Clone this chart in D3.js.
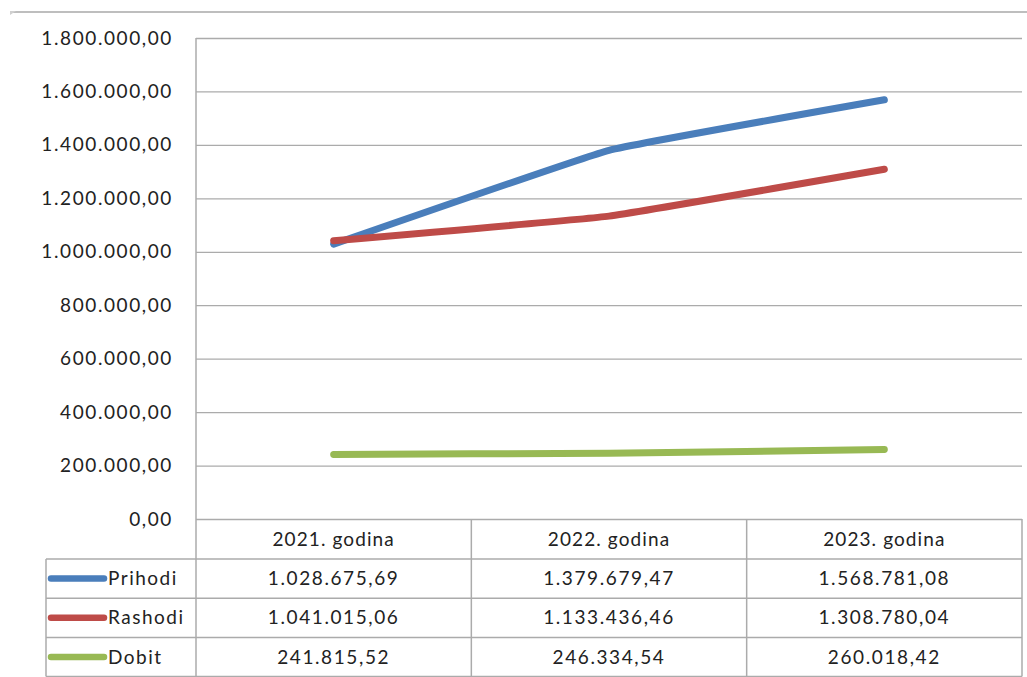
<!DOCTYPE html>
<html><head><meta charset="utf-8">
<script src="https://cdn.jsdelivr.net/npm/d3@7"></script>
<style>
html,body{margin:0;padding:0;background:#fff;}
svg{display:block;}
text{font-family:Lato,"Open Sans",sans-serif;fill:#222;}
</style></head>
<body>
<svg id="chart" width="1027" height="677"></svg>
<script>
const categories = ["2021. godina", "2022. godina", "2023. godina"];
const seriesNames = ["Prihodi", "Rashodi", "Dobit"];
const prihodi = [1028675.69, 1379679.47, 1568781.08];
const rashodi = [1041015.06, 1133436.46, 1308780.04];
const dobit = [241815.52, 246334.54, 260018.42];
const yTicks = [0, 200000, 400000, 600000, 800000, 1000000, 1200000, 1400000, 1600000, 1800000];
const colors = ["#4a7ebb", "#be4b48", "#98b954"];

const series = [prihodi, rashodi, dobit].map((v, i) => ({name: seriesNames[i], values: v, color: colors[i]}));

const loc = d3.formatLocale({decimal: ",", thousands: ".", grouping: [3], currency: ["", ""]});
const fmt = loc.format(",.2f");

const svg = d3.select("#chart");
const L = 196, R = 1022, T = 38, B = 519;
const tableLeft = 46;
const rowH = 39.2;
const headerBottom = 559;

const x = d3.scaleBand().domain(categories).range([L, R]).padding(0);
const y = d3.scaleLinear().domain([0, 1800000]).range([B, T]);
const gridColor = "#ababab";

// top border
svg.append("line").attr("x1", 10).attr("x2", 1027).attr("y1", 12).attr("y2", 12)
  .attr("stroke", "#a8a8a8").attr("stroke-width", 1.5);
svg.append("path").attr("d", "M10,11 L16,11 L10,15 Z").attr("fill", "#d0d0d0");

// gridlines
const yAxis = d3.axisLeft(y).tickValues(yTicks).tickSize(-(R - L)).tickFormat(fmt).tickPadding(23);
const gy = svg.append("g").attr("transform", `translate(${L},0)`).call(yAxis);
gy.select(".domain").remove();
gy.selectAll(".tick line").attr("stroke", gridColor).attr("stroke-width", 1.3);
gy.selectAll(".tick text").attr("font-size", 19).attr("letter-spacing", "1.6px")
  .attr("font-family", "Lato, sans-serif").attr("fill", "#222");

// vertical axis line
svg.append("line").attr("x1", L).attr("x2", L).attr("y1", T).attr("y2", headerBottom + rowH * 3)
  .attr("stroke", gridColor).attr("stroke-width", 1.5);

// table lines
const tableBottom = headerBottom + rowH * 3;
const tg = svg.append("g");
categories.forEach(c => {
  const xe = x(c) + x.bandwidth();
  tg.append("line").attr("x1", xe).attr("x2", xe).attr("y1", B).attr("y2", tableBottom)
    .attr("stroke", gridColor).attr("stroke-width", 1.5);
});
tg.append("line").attr("x1", tableLeft).attr("x2", tableLeft).attr("y1", headerBottom).attr("y2", tableBottom)
  .attr("stroke", gridColor).attr("stroke-width", 1.5);
for (let i = 0; i <= 3; i++) {
  const yy = headerBottom + rowH * i;
  tg.append("line").attr("x1", tableLeft).attr("x2", R).attr("y1", yy).attr("y2", yy)
    .attr("stroke", gridColor).attr("stroke-width", 1.5);
}
// header labels
tg.selectAll("text.hdr").data(categories).enter().append("text")
  .attr("x", d => x(d) + x.bandwidth() / 2).attr("y", (B + headerBottom) / 2)
  .attr("dy", "0.35em").attr("text-anchor", "middle").attr("font-size", 19).attr("letter-spacing", "1.1px")
  .text(d => d);

// rows
series.forEach((s, i) => {
  const cy = headerBottom + rowH * i + rowH / 2;
  tg.append("line").attr("x1", 51).attr("x2", 104).attr("y1", cy).attr("y2", cy)
    .attr("stroke", s.color).attr("stroke-width", 6.5).attr("stroke-linecap", "round");
  tg.append("text").attr("x", 108).attr("y", cy).attr("dy", "0.35em").attr("font-size", 19)
    .attr("letter-spacing", "1.5px").text(s.name);
  s.values.forEach((v, j) => {
    tg.append("text").attr("x", x(categories[j]) + x.bandwidth() / 2).attr("y", cy).attr("dy", "0.35em")
      .attr("text-anchor", "middle").attr("font-size", 19).attr("letter-spacing", "1.6px").text(fmt(v));
  });
});

// lines (slightly smoothed, as in the original)
const line = d3.line().x((d, j) => x(categories[j]) + x.bandwidth() / 2).y(d => y(d))
  .curve(d3.curveCardinal.tension(0.75));
svg.append("g").selectAll("path").data(series).enter().append("path")
  .attr("d", d => line(d.values)).attr("fill", "none").attr("stroke", d => d.color)
  .attr("stroke-width", 7).attr("stroke-linecap", "round").attr("stroke-linejoin", "round");
</script>
</body></html>
